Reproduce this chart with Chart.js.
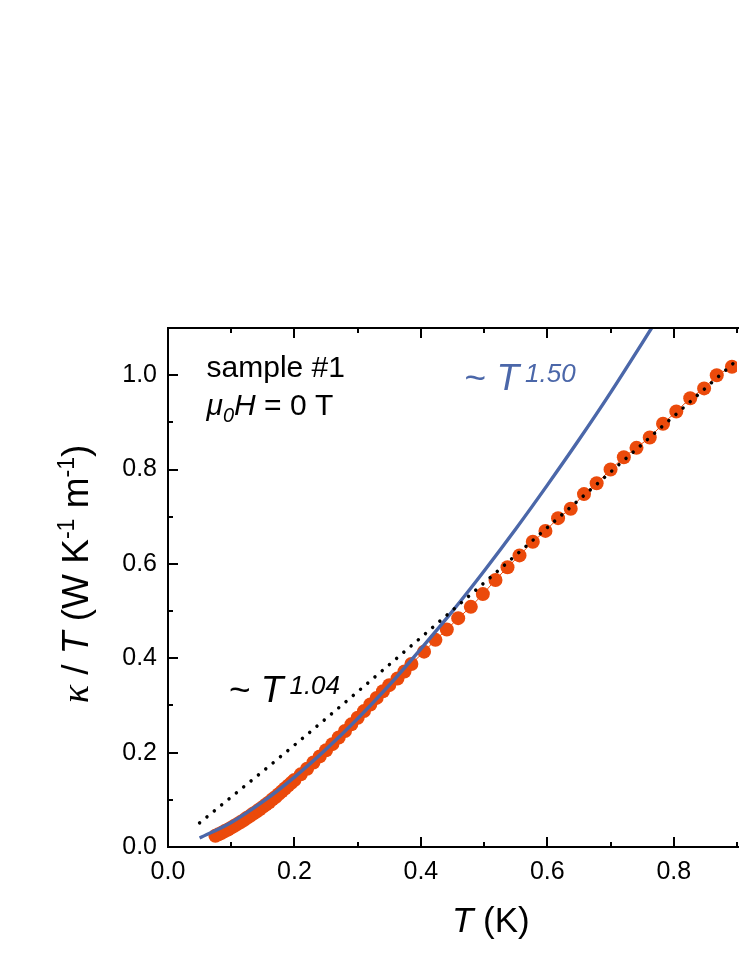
<!DOCTYPE html>
<html>
<head>
<meta charset="utf-8">
<script src="https://cdn.jsdelivr.net/npm/chart.js@4.4.0/dist/chart.umd.min.js"></script>
<style>
  html, body { margin: 0; padding: 0; background: #fff; overflow: hidden; }
  #wrap { width: 747px; height: 967px; }
</style>
</head>
<body>
<div id="wrap"><canvas id="kappaChart" width="747" height="967"></canvas></div>
<script>
// measured kappa/T (orange dots)
const tempK = [0.075, 0.08, 0.085, 0.09, 0.095, 0.10, 0.105, 0.11, 0.115, 0.12, 0.125, 0.13, 0.135, 0.14, 0.145,
  0.15, 0.155, 0.16, 0.165, 0.17, 0.175, 0.18, 0.185, 0.19, 0.195, 0.20, 0.21, 0.22, 0.23, 0.24, 0.25, 0.26, 0.27,
  0.28, 0.29, 0.30, 0.31, 0.32, 0.33, 0.34, 0.35, 0.363, 0.374, 0.385, 0.405, 0.423, 0.441, 0.459, 0.479, 0.498,
  0.518, 0.537, 0.556, 0.577, 0.597, 0.617, 0.637, 0.658, 0.678, 0.70, 0.721, 0.741, 0.762, 0.783, 0.804, 0.826,
  0.848, 0.868, 0.892];
const kappaOverT = [0.024, 0.027, 0.030, 0.034, 0.037, 0.041, 0.045, 0.049, 0.053, 0.057, 0.062, 0.066, 0.071, 0.075, 0.080,
  0.085, 0.090, 0.095, 0.101, 0.106, 0.112, 0.118, 0.124, 0.130, 0.136, 0.142, 0.154, 0.166, 0.179, 0.192, 0.205, 0.218, 0.232,
  0.246, 0.260, 0.274, 0.288, 0.302, 0.316, 0.330, 0.343, 0.357, 0.372, 0.388, 0.414, 0.439, 0.461, 0.485, 0.509, 0.536,
  0.566, 0.593, 0.618, 0.647, 0.670, 0.697, 0.717, 0.748, 0.771, 0.800, 0.826, 0.846, 0.868, 0.897, 0.923, 0.951,
  0.972, 1.000, 1.018];

// ~T^1.50 curve (blue)
const fit150T = [0.05, 0.10, 0.15, 0.20, 0.25, 0.30, 0.35, 0.40, 0.45, 0.50, 0.55, 0.60, 0.65, 0.70, 0.75, 0.80];
const fit150V = [0.019, 0.052, 0.096, 0.148, 0.207, 0.272, 0.343, 0.420, 0.500, 0.585, 0.674, 0.767, 0.863, 0.963, 1.068, 1.175];

// ~T^1.04 curve (black dotted)
const fit104T = [0.05, 0.20, 0.40, 0.60, 0.80, 0.90];
const fit104V = [0.051, 0.216, 0.444, 0.677, 0.913, 1.032];

const SANS = "'Liberation Sans', Arial, sans-serif";
const ORANGE = '#EB4A0B';
const BLUE = '#4B67A9';

const toXY = (xs, ys) => xs.map((x, i) => ({ x: x, y: ys[i] }));
const isMajor = v => Math.round(v * 10) % 2 === 0;

// draws a row of text pieces (italic / sub / superscript) left to right
function drawRuns(ctx, x, y, parts, measureOnly) {
    let cx = x;
    parts.forEach(p => {
        ctx.font = p.f;
        ctx.fillStyle = p.c || '#000';
        if (!measureOnly) ctx.fillText(p.t, cx, y + (p.dy || 0));
        cx += ctx.measureText(p.t).width + (p.sp || 0);
    });
    return cx - x;
}

const framePlugin = {
    id: 'frame',
    afterDraw(chart) {
        const { ctx, chartArea: a, scales: { x, y } } = chart;
        ctx.save();
        ctx.strokeStyle = '#000';
        ctx.lineWidth = 2;
        ctx.beginPath();
        ctx.moveTo(a.right + 2, a.top); ctx.lineTo(a.left, a.top);
        ctx.lineTo(a.left, a.bottom); ctx.lineTo(a.right + 2, a.bottom);
        ctx.stroke();

        // inward ticks, bottom + top and left
        ctx.beginPath();
        x.ticks.forEach(t => {
            const px = Math.round(x.getPixelForValue(t.value));
            const len = isMajor(t.value) ? 10 : 5;
            ctx.moveTo(px, a.bottom); ctx.lineTo(px, a.bottom - len);
            ctx.moveTo(px, a.top); ctx.lineTo(px, a.top + len);
        });
        y.ticks.forEach(t => {
            const py = Math.round(y.getPixelForValue(t.value));
            const len = isMajor(t.value) ? 10 : 5;
            ctx.moveTo(a.left, py); ctx.lineTo(a.left + len, py);
        });
        ctx.stroke();

        // annotations
        ctx.textBaseline = 'alphabetic';
        ctx.textAlign = 'left';
        drawRuns(ctx, x.getPixelForValue(0.061), y.getPixelForValue(0.996), [
            { t: 'sample #1', f: `30px ${SANS}` }
        ]);
        drawRuns(ctx, x.getPixelForValue(0.061), y.getPixelForValue(0.916), [
            { t: 'μ', f: `italic 30px ${SANS}` },
            { t: '0', f: `italic 20px ${SANS}`, dy: 7 },
            { t: 'H', f: `italic 30px ${SANS}` },
            { t: ' = 0 T', f: `30px ${SANS}` }
        ]);
        drawRuns(ctx, x.getPixelForValue(0.469), y.getPixelForValue(0.969), [
            { t: '~ ', f: `37px ${SANS}`, c: BLUE },
            { t: 'T', f: `italic 37px ${SANS}`, c: BLUE, sp: 6 },
            { t: '1.50', f: `italic 26px ${SANS}`, c: BLUE, dy: -8 }
        ]);
        drawRuns(ctx, x.getPixelForValue(0.0964), y.getPixelForValue(0.307), [
            { t: '~ ', f: `37px ${SANS}` },
            { t: 'T', f: `italic 37px ${SANS}`, sp: 6 },
            { t: '1.04', f: `italic 26px ${SANS}`, dy: -8 }
        ]);

        // axis titles
        drawRuns(ctx, 452, 932, [
            { t: 'T', f: `italic 35px ${SANS}` },
            { t: ' (K)', f: `35px ${SANS}` }
        ]);
        const yTitle = [
            { t: 'κ', f: `italic 38px 'Liberation Serif', serif` },
            { t: ' / ', f: `37px ${SANS}` },
            { t: 'T', f: `italic 37px ${SANS}` },
            { t: ' (W K', f: `37px ${SANS}` },
            { t: '-1', f: `23px ${SANS}`, dy: -14 },
            { t: ' m', f: `37px ${SANS}` },
            { t: '-1', f: `23px ${SANS}`, dy: -14 },
            { t: ')', f: `37px ${SANS}` }
        ];
        ctx.translate(88, 574);
        ctx.rotate(-Math.PI / 2);
        const w = drawRuns(ctx, 0, 0, yTitle, true);
        drawRuns(ctx, -w / 2, 0, yTitle);
        ctx.restore();
    }
};

new Chart(document.getElementById('kappaChart'), {
    type: 'line',
    data: {
        datasets: [
            {
                label: '~T^1.04',
                data: toXY(fit104T, fit104V),
                borderColor: '#000',
                borderWidth: 3.5,
                borderDash: [0.01, 9.5],
                borderCapStyle: 'round',
                pointRadius: 0,
                cubicInterpolationMode: 'monotone'
            },
            {
                label: '~T^1.50',
                data: toXY(fit150T, fit150V),
                borderColor: BLUE,
                borderWidth: 3.4,
                pointRadius: 0,
                cubicInterpolationMode: 'monotone'
            },
            {
                label: 'sample #1',
                data: toXY(tempK, kappaOverT),
                borderColor: ORANGE,
                borderWidth: 1,
                pointRadius: 7,
                pointBorderWidth: 0,
                pointBackgroundColor: ORANGE
            }
        ]
    },
    options: {
        responsive: false,
        animation: false,
        layout: { padding: { top: 328, left: 0, right: 0, bottom: 0 } },
        plugins: { legend: { display: false }, tooltip: { enabled: false } },
        scales: {
            x: {
                type: 'linear', min: 0, max: 0.9,
                grid: { display: false, drawTicks: false },
                border: { display: false },
                ticks: {
                    stepSize: 0.1, autoSkip: false, maxRotation: 0, padding: 10,
                    color: '#000', font: { family: SANS, size: 25 },
                    callback: v => isMajor(v) ? v.toFixed(1) : ''
                },
                afterFit: s => { s.height = 120; }
            },
            y: {
                type: 'linear', min: 0, max: 1.1,
                grid: { display: false, drawTicks: false },
                border: { display: false },
                ticks: {
                    stepSize: 0.1, autoSkip: false, padding: 11,
                    color: '#000', font: { family: SANS, size: 25 },
                    callback: v => isMajor(v) ? v.toFixed(1) : ''
                },
                afterFit: s => { s.width = 168; }
            }
        }
    },
    plugins: [framePlugin]
});
</script>
</body>
</html>
